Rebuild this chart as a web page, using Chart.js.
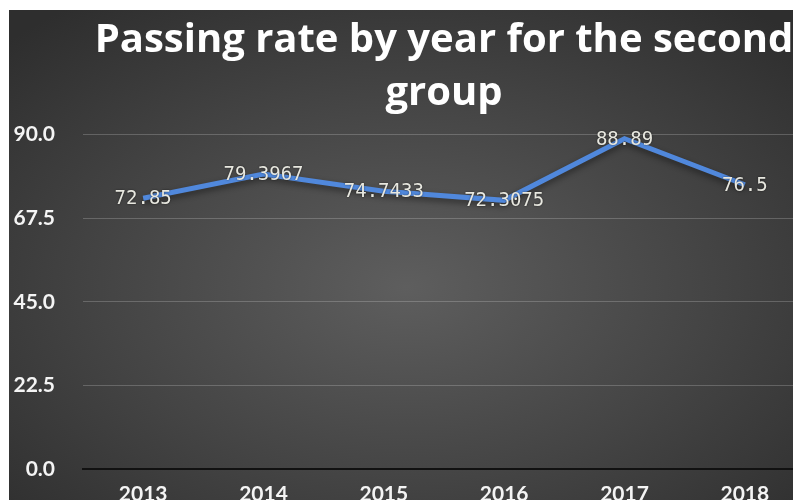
<!DOCTYPE html>
<html>
<head>
<meta charset="utf-8">
<script src="https://cdn.jsdelivr.net/npm/chart.js@4.4.1/dist/chart.umd.min.js"></script>
<style>
  html, body { margin: 0; padding: 0; background: #fff; overflow: hidden; width: 793px; height: 500px; }
  #wrap {
    position: absolute; left: 9px; top: 10px; width: 796px; height: 504px;
    background: radial-gradient(ellipse 70% 70% at 50% 55%, #5e5e5e 0%, #444 55%, #2e2e2e 100%);
  }
</style>
</head>
<body>
<div id="wrap"><canvas id="chart1"></canvas></div>
<script>
var years = ['2013', '2014', '2015', '2016', '2017', '2018'];
var passRate = [72.85, 79.3967, 74.7433, 72.3075, 88.89, 76.5];
var rateLabels = ['72.85', '79.3967', '74.7433', '72.3075', '88.89', '76.5'];
var yTicks = [0, 22.5, 45, 67.5, 90];

// labels drawn right on top of each point
var pointText = {
    id: 'pointText',
    afterDatasetsDraw: function (chart) {
        var ctx = chart.ctx;
        var meta = chart.getDatasetMeta(0);
        ctx.save();
        ctx.font = '19px "DejaVu Sans Mono"';
        ctx.textAlign = 'center';
        ctx.textBaseline = 'middle';
        ctx.shadowColor = 'rgba(0,0,0,0.6)';
        ctx.shadowBlur = 2;
        ctx.fillStyle = '#e8e8e0';
        meta.data.forEach(function (pt, i) {
            ctx.fillText(rateLabels[i], pt.x, pt.y + 1);
        });
        ctx.restore();
    }
};

var lineShadow = {
    id: 'lineShadow',
    beforeDatasetDraw: function (chart) {
        chart.ctx.save();
        chart.ctx.shadowColor = 'rgba(0,0,0,0.45)';
        chart.ctx.shadowBlur = 6;
        chart.ctx.shadowOffsetY = 3;
    },
    afterDatasetDraw: function (chart) {
        chart.ctx.restore();
    }
};

const chart1 = new Chart(document.getElementById('chart1'), {
    type: 'line',
    data: {
        labels: years,
        datasets: [{
            data: passRate,
            borderColor: '#5088dc',
            borderWidth: 5,
            pointRadius: 0,
            tension: 0,
            fill: false
        }]
    },
    options: {
        responsive: true,
        maintainAspectRatio: false,
        animation: false,
        layout: { padding: { left: 0, right: 0, top: 0, bottom: 0 } },
        plugins: {
            legend: { display: false },
            tooltip: { enabled: false },
            title: {
                display: true,
                fullSize: false,
                text: ['Passing rate by year for the second', 'group'],
                color: '#ffffff',
                font: { family: 'Open Sans', size: 40, weight: 'bold', lineHeight: 1.32 },
                padding: { top: 4, bottom: 15 }
            }
        },
        scales: {
            x: {
                offset: true,
                grid: { display: false },
                border: { display: true, color: '#111', width: 2 },
                ticks: {
                    color: '#f4f4f4',
                    padding: 5,
                    font: { family: 'Lato', size: 21, weight: 'bold' }
                },
                afterFit: function (scale) { scale.height = 45; }
            },
            y: {
                min: 0,
                max: 90,
                afterBuildTicks: function (scale) {
                    scale.ticks = yTicks.map(function (v) { return { value: v }; });
                },
                grid: {
                    color: function (c) { return c.tick && c.tick.value === 0 ? 'rgba(0,0,0,0)' : 'rgba(255,255,255,0.2)'; },
                    lineWidth: 1,
                    drawTicks: false
                },
                border: { display: false },
                ticks: {
                    color: '#f4f4f4',
                    padding: 28,
                    font: { family: 'Lato', size: 21, weight: 'bold' },
                    callback: function (v) { return Number(v).toFixed(1); }
                },
                afterFit: function (scale) { scale.width = 74; }
            }
        }
    },
    plugins: [lineShadow, pointText]
});
</script>
</body>
</html>
